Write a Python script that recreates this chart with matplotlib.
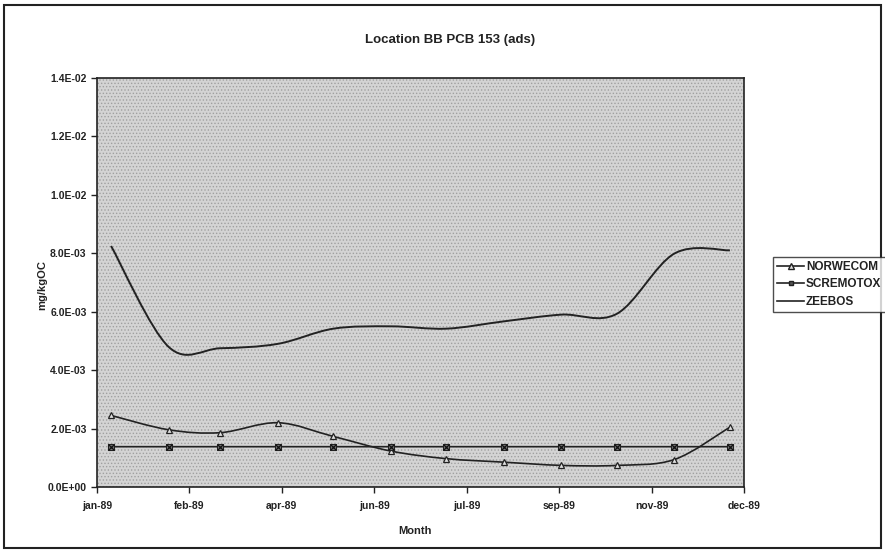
import datetime as dt
import numpy as np
import matplotlib
matplotlib.use("Agg")
import matplotlib.pyplot as plt
import matplotlib.dates as mdates
from matplotlib.path import Path
from matplotlib.patches import PathPatch, Rectangle
from matplotlib.lines import Line2D
from matplotlib.ticker import FuncFormatter

plt.rcParams['font.family'] = ['Liberation Sans', 'DejaVu Sans']
plt.rcParams['hatch.linewidth'] = 0.6

# ---- data ----
months = [dt.datetime(1989, m, 15) for m in range(1, 13)]
norwecom = [2.45e-3, 1.96e-3, 1.86e-3, 2.20e-3, 1.73e-3, 1.23e-3,
            0.97e-3, 0.85e-3, 0.74e-3, 0.74e-3, 0.94e-3, 2.05e-3]
scremotox = [1.38e-3] * 12
zeebos = [8.25e-3, 4.80e-3, 4.75e-3, 4.90e-3, 5.42e-3, 5.50e-3,
          5.42e-3, 5.67e-3, 5.90e-3, 5.93e-3, 7.99e-3, 8.10e-3]
series_names = ["NORWECOM", "SCREMOTOX", "ZEEBOS"]
yticks = [0, 2e-3, 4e-3, 6e-3, 8e-3, 1.0e-2, 1.2e-2, 1.4e-2]

title = "Location BB PCB 153 (ads)"
xlabel = "Month"
ylabel = "mg/kgOC"

fig = plt.figure(figsize=(8.85, 5.52), dpi=100)
ax = fig.add_axes([97 / 885, 1 - 487 / 552, (744 - 97) / 885, (487 - 78) / 552])

xnum = mdates.date2num(months)


def smooth_patch(x, y, **kw):
    x = np.asarray(x, float)
    y = np.asarray(y, float)
    n = len(x)
    verts = [(x[0], y[0])]
    codes = [Path.MOVETO]
    for i in range(n - 1):
        i0 = max(i - 1, 0)
        i3 = min(i + 2, n - 1)
        c1 = (x[i] + (x[i + 1] - x[i0]) / 6, y[i] + (y[i + 1] - y[i0]) / 6)
        c2 = (x[i + 1] - (x[i3] - x[i]) / 6, y[i + 1] - (y[i3] - y[i]) / 6)
        verts += [c1, c2, (x[i + 1], y[i + 1])]
        codes += [Path.CURVE4] * 3
    return PathPatch(Path(verts, codes), fill=False, **kw)


lc = '#222222'
ax.add_patch(smooth_patch(xnum, zeebos, edgecolor=lc, lw=1.4, zorder=3))
ax.add_patch(smooth_patch(xnum, norwecom, edgecolor=lc, lw=1.2, zorder=3))
ax.add_patch(smooth_patch(xnum, scremotox, edgecolor=lc, lw=1.2, zorder=3))
ax.plot(xnum, norwecom, linestyle='none', marker='^', ms=5, mfc='#e0e0e0',
        mec=lc, mew=0.9, zorder=4)
ax.plot(xnum, scremotox, linestyle='none', marker='s', ms=4.5, mfc='#777777',
        mec=lc, mew=0.8, zorder=4)
ax.plot(xnum, scremotox, linestyle='none', marker='x', ms=4.5, mec='#111111',
        mew=0.9, zorder=5)

pad = 7.6
x0, x1 = xnum[0] - pad, xnum[-1] + pad
ax.set_xlim(x0, x1)
ax.set_ylim(0, 1.4e-2)
ax.set_xticks(np.linspace(x0, x1, 8))
ax.xaxis.set_major_formatter(FuncFormatter(
    lambda v, p: mdates.num2date(v).strftime('%b-%y').lower()))
ax.set_yticks(yticks)
ax.yaxis.set_major_formatter(FuncFormatter(lambda v, p: '{:.1E}'.format(v)))

ax.set_facecolor('#d4d4d4')
bg = Rectangle((0, 0), 1, 1, transform=ax.transAxes, facecolor='none',
               edgecolor='#a0a0a0', hatch='.....', lw=0, zorder=0)
ax.add_patch(bg)

for s in ax.spines.values():
    s.set_linewidth(1.2)
    s.set_color('#222222')
ax.tick_params(direction='out', length=4, width=1, labelsize=7.5, colors='#222222')
for lab in ax.get_xticklabels() + ax.get_yticklabels():
    lab.set_fontweight('bold')
ax.tick_params(axis='x', pad=6)

fig.text(450 / 885, 1 - 40 / 552, title, ha='center', va='center',
         fontsize=9.5, fontweight='bold', color='#222222')
fig.text(415 / 885, 1 - 531 / 552, xlabel, ha='center', va='center',
         fontsize=8, fontweight='bold', color='#222222')
fig.text(42 / 885, 1 - 285 / 552, ylabel, ha='center', va='center',
         rotation=90, fontsize=8, fontweight='bold', color='#222222')

handles = [
    Line2D([], [], color=lc, lw=1.2, marker='^', ms=4, mfc='#e0e0e0', mec=lc),
    Line2D([], [], color=lc, lw=1.2, marker='s', ms=3.5, mfc='#555555', mec=lc),
    Line2D([], [], color=lc, lw=1.2),
]
leg = fig.legend(handles, series_names, loc='upper left',
                 bbox_to_anchor=(773 / 885, 1 - 257 / 552),
                 frameon=True, fancybox=False, edgecolor='#222222',
                 handlelength=2.3, handletextpad=0.15, borderpad=0.35,
                 labelspacing=0.45, borderaxespad=0,
                 prop={'size': 8.5, 'weight': 'bold'})
leg.get_frame().set_linewidth(1.0)
for t in leg.get_texts():
    t.set_color('#222222')

fig.patches.append(Rectangle((4 / 885, 4 / 552), 877 / 885, 543 / 552,
                             transform=fig.transFigure, fill=False,
                             edgecolor='#222222', lw=1.5))

fig.savefig('out.png', dpi=100)
